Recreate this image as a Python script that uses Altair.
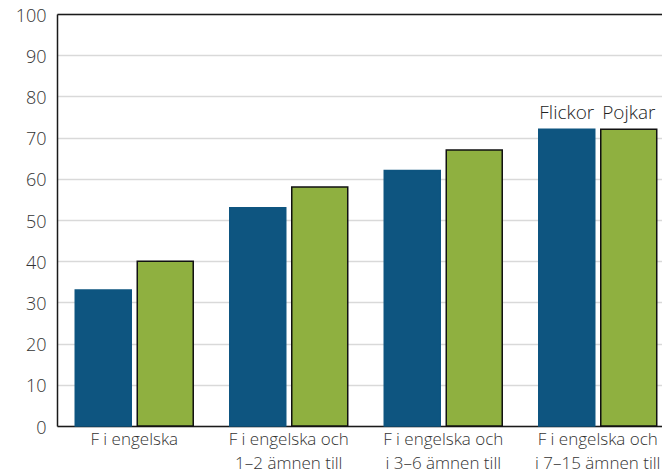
import altair as alt
import pandas as pd

categories = ["F i engelska", "F i engelska och 1–2 ämnen till",
              "F i engelska och i 3–6 ämnen till", "F i engelska och i 7–15 ämnen till"]
series = ["Flickor", "Pojkar"]
flickor = [33, 53, 62, 72]
pojkar = [40, 58, 67, 72]

rows = []
for i, c in enumerate(categories):
    rows.append({"cat": c, "kon": "Flickor", "val": flickor[i]})
    rows.append({"cat": c, "kon": "Pojkar", "val": pojkar[i]})
df = pd.DataFrame(rows)

FONT = "Open Sans"
label_expr = "datum.value == '" + categories[0] + "' ? ['F i engelska'] : [" + \
    "'F i engelska och', replace(datum.value, 'F i engelska och ', '')]"

xscale = alt.Scale(range=[0, 618], paddingInner=0, paddingOuter=0)
xo = alt.XOffset("kon:N", sort=series,
                 scale=alt.Scale(paddingInner=0.097, paddingOuter=0.2945))

bars = alt.Chart(df).mark_bar(strokeWidth=1.5).encode(
    x=alt.X("cat:N", sort=categories, title=None, scale=xscale,
            axis=alt.Axis(labelAngle=0, labelExpr=label_expr, ticks=False,
                          domainColor="#1a1a1a", domainWidth=1.5,
                          labelFont=FONT, labelFontSize=17, labelFontWeight=300,
                          labelColor="#333333",
                          labelPadding=5, labelLineHeight=24, labelBaseline="top")),
    xOffset=xo,
    y=alt.Y("val:Q", title=None,
            scale=alt.Scale(domain=[0, 100], nice=False),
            axis=alt.Axis(values=list(range(0, 101, 10)), ticks=False,
                          domainColor="#1a1a1a", domainWidth=1.5,
                          grid=True, gridColor="#d9d9d9", gridWidth=1.5,
                          labelFont=FONT, labelFontSize=18, labelFontWeight=300,
                          labelColor="#333333", labelOffset=2,
                          labelPadding=11)),
    color=alt.Color("kon:N", sort=series, legend=None,
                    scale=alt.Scale(domain=series, range=["#0e5580", "#8fb040"])),
    stroke=alt.Stroke("kon:N", sort=series, legend=None,
                      scale=alt.Scale(domain=series, range=["#0e5580", "#111111"])),
)

last = df[df["cat"] == categories[-1]]
texts = alt.Chart(last).mark_text(font=FONT, fontSize=19, fontWeight=300,
                                  color="#222222",
                                  baseline="alphabetic", dy=-10).encode(
    x=alt.X("cat:N", sort=categories, title=None, scale=xscale,
            axis=alt.Axis(orient="top", labels=False, ticks=False,
                          domainColor="#1a1a1a", domainWidth=1.5)),
    xOffset=xo,
    y="val:Q",
    text="kon:N",
)

chart = alt.layer(bars, texts).resolve_axis(x="independent").properties(
    width=605, height=412,
    autosize=alt.AutoSizeParams(type="none"),
    padding={"left": 49, "top": 6, "right": 0, "bottom": 50},
).configure_view(stroke=None).configure_axis(grid=False)

chart.save("out.html", embed_options={"renderer": "svg", "actions": False})
